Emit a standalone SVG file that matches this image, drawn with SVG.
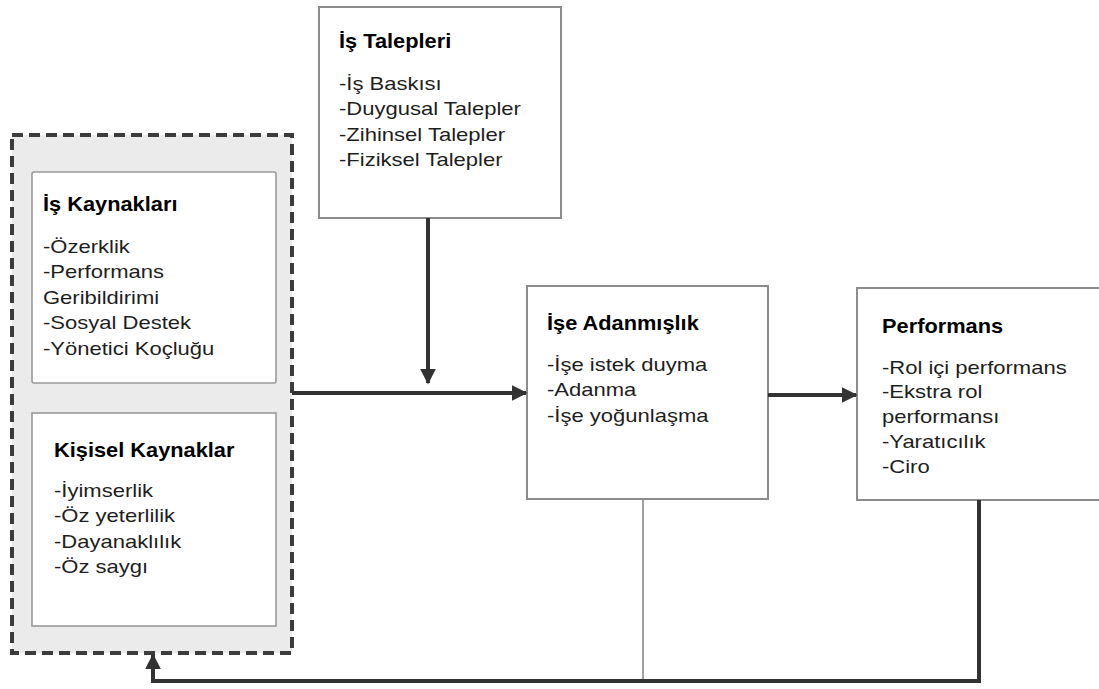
<svg xmlns="http://www.w3.org/2000/svg" width="1099" height="689" viewBox="0 0 1099 689">
  <style>
    .box { fill: #ffffff; stroke: #8c8c8c; stroke-width: 2; }
    .inner { fill: #ffffff; stroke: #9a9a9a; stroke-width: 1.6; }
    .group { fill: #ebebeb; stroke: #3c3c3c; stroke-width: 4; stroke-dasharray: 11 6; }
    .h { font-family: "Liberation Sans", Arial, sans-serif; font-weight: bold; font-size: 20px; fill: #000000; }
    .b { font-family: "Liberation Sans", Arial, sans-serif; font-size: 18.5px; fill: #1e1e1e; }
    .thick { fill: none; stroke: #333333; stroke-width: 4; }
    .thin { fill: none; stroke: #8a8a8a; stroke-width: 1.6; }
  </style>
  <defs>
    <marker id="arrow" viewBox="0 0 10 10" refX="9" refY="5" markerWidth="4" markerHeight="4" orient="auto" markerUnits="strokeWidth">
      <path d="M0,0 L10,5 L0,10 Z" fill="#333333"/>
    </marker>
  </defs>

  <rect width="1099" height="689" fill="#ffffff"/>

  <!-- resources group (dashed container) -->
  <g id="resources">
    <rect class="group" x="12" y="135" width="280" height="518"/>
  </g>

  <g id="is-kaynaklari">
    <rect class="inner" x="32" y="172" width="244" height="211" rx="2"/>
    <text class="h" transform="translate(43,211) scale(1.09,1)">İş Kaynakları</text>
    <text class="b" transform="translate(43,253) scale(1.19,1)">
      <tspan x="0">-Özerklik</tspan>
      <tspan x="0" dy="25.5">-Performans</tspan>
      <tspan x="0" dy="25.5">Geribildirimi</tspan>
      <tspan x="0" dy="25.5">-Sosyal Destek</tspan>
      <tspan x="0" dy="25.5">-Yönetici Koçluğu</tspan>
    </text>
  </g>

  <g id="kisisel-kaynaklar">
    <rect class="inner" x="32" y="413" width="244" height="213"/>
    <text class="h" transform="translate(54,457) scale(1.09,1)">Kişisel Kaynaklar</text>
    <text class="b" transform="translate(54,497) scale(1.19,1)">
      <tspan x="0">-İyimserlik</tspan>
      <tspan x="0" dy="25.3">-Öz yeterlilik</tspan>
      <tspan x="0" dy="25.3">-Dayanaklılık</tspan>
      <tspan x="0" dy="25.3">-Öz saygı</tspan>
    </text>
  </g>

  <g id="is-talepleri">
    <rect class="box" x="319" y="7" width="242" height="211"/>
    <text class="h" transform="translate(339,47.5) scale(1.09,1)">İş Talepleri</text>
    <text class="b" transform="translate(339,89.5) scale(1.19,1)">
      <tspan x="0">-İş Baskısı</tspan>
      <tspan x="0" dy="25.6">-Duygusal Talepler</tspan>
      <tspan x="0" dy="25.6">-Zihinsel Talepler</tspan>
      <tspan x="0" dy="25.6">-Fiziksel Talepler</tspan>
    </text>
  </g>

  <g id="ise-adanmislik">
    <rect class="box" x="527" y="286" width="241" height="213"/>
    <text class="h" transform="translate(547,330) scale(1.09,1)">İşe Adanmışlık</text>
    <text class="b" transform="translate(547,371) scale(1.19,1)">
      <tspan x="0">-İşe istek duyma</tspan>
      <tspan x="0" dy="25.5">-Adanma</tspan>
      <tspan x="0" dy="25.5">-İşe yoğunlaşma</tspan>
    </text>
  </g>

  <g id="performans">
    <rect class="box" x="857" y="288" width="250" height="212"/>
    <text class="h" transform="translate(882,333) scale(1.09,1)">Performans</text>
    <text class="b" transform="translate(882,373.5) scale(1.19,1)">
      <tspan x="0">-Rol içi performans</tspan>
      <tspan x="0" dy="25">-Ekstra rol</tspan>
      <tspan x="0" dy="25">performansı</tspan>
      <tspan x="0" dy="25">-Yaratıcılık</tspan>
      <tspan x="0" dy="25">-Ciro</tspan>
    </text>
  </g>

  <!-- connectors -->
  <g id="connectors">
    <line class="thick" x1="428" y1="218" x2="428" y2="383" marker-end="url(#arrow)"/>
    <line class="thick" x1="292" y1="393" x2="526" y2="393" marker-end="url(#arrow)"/>
    <line class="thick" x1="768" y1="395" x2="856" y2="395" marker-end="url(#arrow)"/>
    <line class="thin" x1="643" y1="499" x2="643" y2="681"/>
    <polyline class="thick" points="979,500 979,681 153,681 153,655" marker-end="url(#arrow)"/>
  </g>
</svg>
